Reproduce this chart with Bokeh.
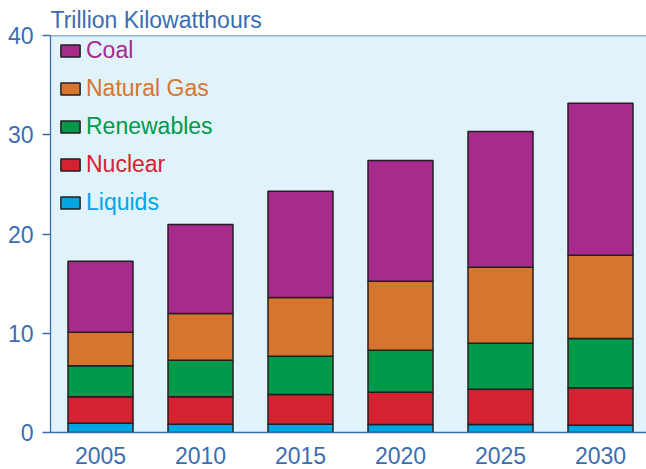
from bokeh.plotting import figure
from bokeh.models import Range1d, FixedTicker, Legend, LegendItem, Span, ColumnDataSource
from bokeh.embed import file_html
from bokeh.resources import INLINE

years = ["2005", "2010", "2015", "2020", "2025", "2030"]
liquids = [0.94, 0.84, 0.84, 0.81, 0.81, 0.74]
nuclear = [2.66, 2.76, 2.99, 3.25, 3.55, 3.76]
renewables = [3.12, 3.68, 3.86, 4.23, 4.64, 4.97]
natural_gas = [3.39, 4.71, 5.91, 6.95, 7.66, 8.39]
coal = [7.15, 8.97, 10.71, 12.17, 13.67, 15.32]

series_names = ["Liquids", "Nuclear", "Renewables", "Natural Gas", "Coal"]
series_keys = ["liquids", "nuclear", "renewables", "natural_gas", "coal"]
colors = ["#00A6E3", "#D32330", "#009A4A", "#D5752E", "#A72A8C"]
y_ticks = [0, 10, 20, 30, 40]

BLUE = "#3B6DB3"
FONT = "Liberation Sans"

xpos = list(range(len(years)))
source = ColumnDataSource(dict(x=xpos, liquids=liquids, nuclear=nuclear,
                               renewables=renewables, natural_gas=natural_gas, coal=coal))

p = figure(width=646, height=469, output_backend="svg", toolbar_location=None,
           x_range=Range1d(-0.50, 5.46), y_range=Range1d(0, 40),
           background_fill_color="#E0F2FA", border_fill_color="white",
           outline_line_color=None, min_border_left=50, min_border_right=0,
           min_border_top=35, min_border_bottom=37)

renderers = p.vbar_stack(series_keys, x="x", width=0.65, color=colors, source=source,
                         line_color="#231F20", line_width=1.5)

p.xgrid.visible = False
p.ygrid.visible = False

p.title.text = "Trillion Kilowatthours"
p.title.text_font = FONT
p.title.text_font_size = "23px"
p.title.text_font_style = "normal"
p.title.text_color = BLUE
p.title.align = "left"
p.title.offset = 0
p.title.standoff = 5

for ax in (p.xaxis[0], p.yaxis[0]):
    ax.axis_line_color = BLUE
    ax.axis_line_width = 1.3
    ax.major_label_text_color = BLUE
    ax.major_label_text_font = FONT
    ax.major_label_text_font_size = "23px"
    ax.minor_tick_line_color = None

p.yaxis.ticker = FixedTicker(ticks=y_ticks)
p.yaxis.major_tick_line_color = BLUE
p.yaxis.major_tick_line_width = 1.3
p.yaxis.major_tick_out = 8
p.yaxis.major_tick_in = 0
p.yaxis.major_label_standoff = 9

p.xaxis.ticker = FixedTicker(ticks=xpos)
p.xaxis.major_label_overrides = {i: y for i, y in zip(xpos, years)}
p.xaxis.major_tick_line_color = None
p.xaxis.major_tick_out = 0
p.xaxis.major_label_standoff = 14
p.xaxis.major_label_text_line_height = 0.9

p.add_layout(Span(location=40, dimension="width", line_color=BLUE, line_width=1.3))

# one legend per series so each label gets its own colour (top to bottom: Coal ... Liquids)
legend_centers = [381.2, 343.2, 305.3, 267.0, 228.7]
order = list(range(len(series_names)))[::-1]
for cy, idx in zip(legend_centers, order):
    lg = Legend(items=[LegendItem(label=series_names[idx], renderers=[renderers[idx]])],
                location=(8, cy - 13), padding=0, margin=0, spacing=0,
                glyph_width=24, glyph_height=15, label_standoff=4,
                label_text_font=FONT, label_text_font_size="23px",
                label_text_color=colors[idx], label_height=26,
                border_line_color=None, background_fill_alpha=0)
    p.add_layout(lg)

open("out.html", "w").write(file_html(p, INLINE))
